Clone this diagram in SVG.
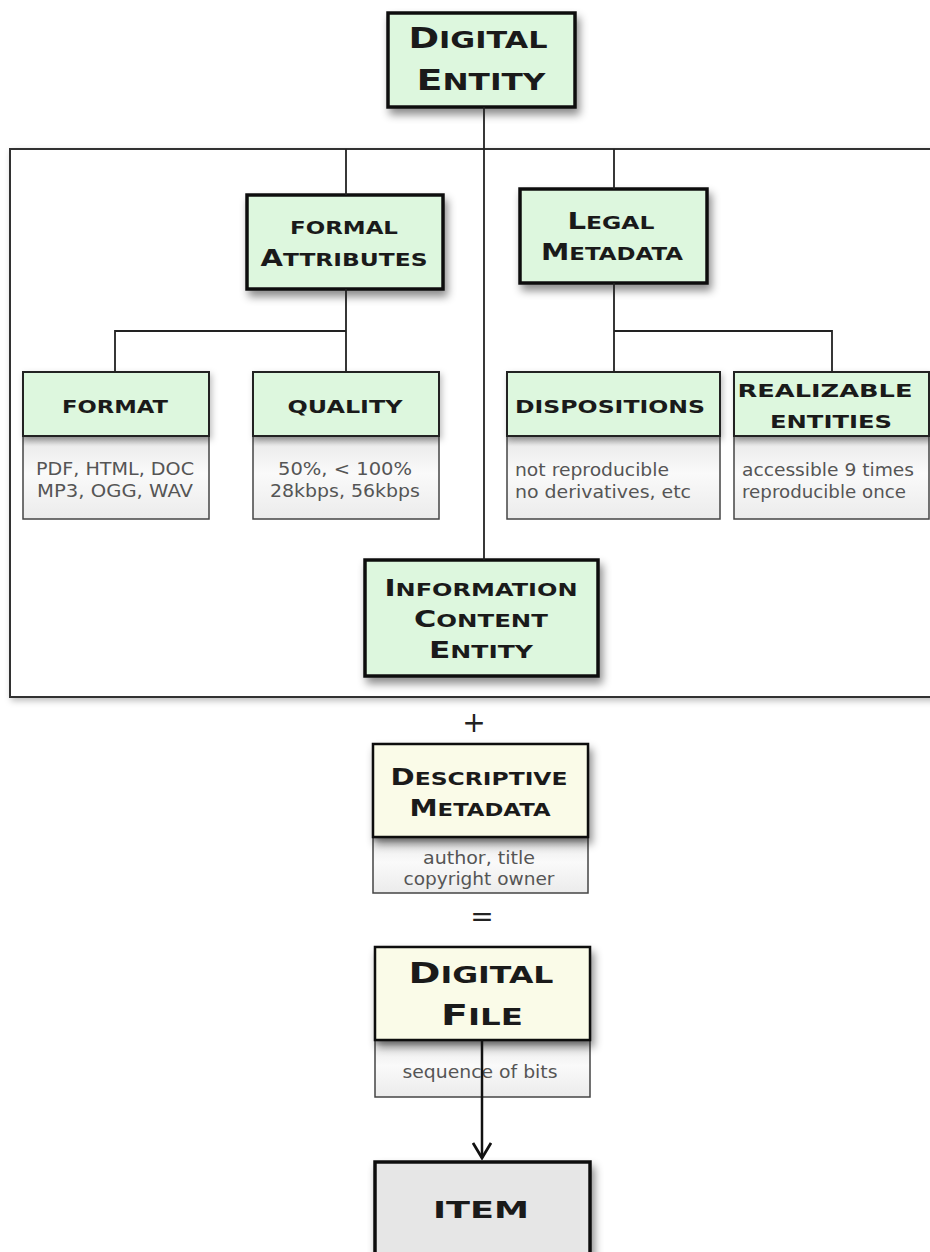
<svg xmlns="http://www.w3.org/2000/svg" width="930" height="1252" viewBox="0 0 930 1252">
<defs>
<filter id="sh" x="-20%" y="-20%" width="150%" height="160%">
<feDropShadow dx="3" dy="6" stdDeviation="4" flood-color="#000" flood-opacity="0.45"/>
</filter>
<filter id="shs" x="-20%" y="-20%" width="150%" height="160%">
<feDropShadow dx="2" dy="3" stdDeviation="3" flood-color="#000" flood-opacity="0.25"/>
</filter>
<linearGradient id="bodyg" x1="0" y1="0" x2="0" y2="1">
<stop offset="0" stop-color="#b5b5b5"/>
<stop offset="0.12" stop-color="#ececec"/>
<stop offset="0.45" stop-color="#fafafa"/>
<stop offset="1" stop-color="#ebebeb"/>
</linearGradient>
<marker id="arr" viewBox="0 0 18 20" refX="16" refY="10" markerWidth="18" markerHeight="20" markerUnits="userSpaceOnUse" orient="auto">
<path d="M1,1 L16,10 L1,19" fill="none" stroke="#111" stroke-width="2.8"/>
</marker>
</defs>
<style>
.main{fill:#ddf7de;stroke:#111;stroke-width:3.5}
.sub{fill:#ddf7de;stroke:#222;stroke-width:2}
.yel{fill:#fafbe8;stroke:#111;stroke-width:2.5}
.item{fill:#e6e6e6;stroke:#111;stroke-width:3.5}
.body{fill:url(#bodyg);stroke:#444;stroke-width:1.5}
.t{font-family:"DejaVu Sans","Liberation Sans",sans-serif;font-weight:bold;fill:#1a1a1a;text-anchor:middle}
.tb{font-size:28px}
.ts{font-size:23px}
.tm{font-size:18.5px}
.tl{font-size:23px}
.b{font-family:"DejaVu Sans","Liberation Sans",sans-serif;fill:#555;font-size:18.5px}
.c{text-anchor:middle}
.con{stroke:#222;stroke-width:1.8;fill:none}
.sym{font-family:"DejaVu Sans","Liberation Sans",sans-serif;fill:#222;text-anchor:middle}
</style>

<g id="container">
<rect x="10" y="149" width="930" height="548" fill="#fff" stroke="#333" stroke-width="2" filter="url(#shs)"/>
</g>

<g id="digital-entity">
<rect class="main" x="388" y="13" width="187" height="94" filter="url(#sh)"/>
<text class="t ts" x="478" y="48" textLength="139" lengthAdjust="spacingAndGlyphs"><tspan class="tb">D</tspan>IGITAL</text>
<text class="t ts" x="481" y="90" textLength="129" lengthAdjust="spacingAndGlyphs"><tspan class="tb">E</tspan>NTITY</text>
</g>

<g id="formal-attributes">
<rect class="main" x="247" y="195" width="196" height="94" filter="url(#sh)"/>
<text class="t tm" x="344" y="234" textLength="108" lengthAdjust="spacingAndGlyphs">FORMAL</text>
<text class="t tm" x="344" y="266" textLength="167" lengthAdjust="spacingAndGlyphs"><tspan class="tl">A</tspan>TTRIBUTES</text>
</g>

<g id="legal-metadata">
<rect class="main" x="520" y="189" width="187" height="94" filter="url(#sh)"/>
<text class="t tm" x="611" y="229" textLength="87" lengthAdjust="spacingAndGlyphs"><tspan class="tl">L</tspan>EGAL</text>
<text class="t tm" x="612" y="260" textLength="142" lengthAdjust="spacingAndGlyphs"><tspan class="tl">M</tspan>ETADATA</text>
</g>

<g id="format">
<rect class="body" x="23" y="436" width="186" height="83"/>
<rect class="sub" x="23" y="372" width="186" height="64" filter="url(#shs)"/>
<text class="t tm" x="115" y="413" textLength="106" lengthAdjust="spacingAndGlyphs">FORMAT</text>
<text class="b c" x="115" y="475" textLength="158" lengthAdjust="spacingAndGlyphs">PDF, HTML, DOC</text>
<text class="b c" x="115" y="497" textLength="156" lengthAdjust="spacingAndGlyphs">MP3, OGG, WAV</text>
</g>

<g id="quality">
<rect class="body" x="253" y="436" width="186" height="83"/>
<rect class="sub" x="253" y="372" width="186" height="64" filter="url(#shs)"/>
<text class="t tm" x="345" y="413" textLength="115" lengthAdjust="spacingAndGlyphs">QUALITY</text>
<text class="b c" x="345" y="475" textLength="134" lengthAdjust="spacingAndGlyphs">50%, &lt; 100%</text>
<text class="b c" x="345" y="497" textLength="150" lengthAdjust="spacingAndGlyphs">28kbps, 56kbps</text>
</g>

<g id="dispositions">
<rect class="body" x="507" y="436" width="213" height="83"/>
<rect class="sub" x="507" y="372" width="213" height="64" filter="url(#shs)"/>
<text class="t tm" x="610" y="413" textLength="190" lengthAdjust="spacingAndGlyphs">DISPOSITIONS</text>
<text class="b" x="515" y="476" textLength="154" lengthAdjust="spacingAndGlyphs">not reproducible</text>
<text class="b" x="515" y="498" textLength="176" lengthAdjust="spacingAndGlyphs">no derivatives, etc</text>
</g>

<g id="realizable-entities">
<rect class="body" x="734" y="436" width="195" height="83"/>
<rect class="sub" x="734" y="372" width="195" height="64" filter="url(#shs)"/>
<text class="t tm" x="825" y="397" textLength="175" lengthAdjust="spacingAndGlyphs">REALIZABLE</text>
<text class="t tm" x="831" y="428" textLength="122" lengthAdjust="spacingAndGlyphs">ENTITIES</text>
<text class="b" x="742" y="476" textLength="172" lengthAdjust="spacingAndGlyphs">accessible 9 times</text>
<text class="b" x="742" y="498" textLength="164" lengthAdjust="spacingAndGlyphs">reproducible once</text>
</g>

<g id="information-content-entity">
<rect class="main" x="365" y="560" width="233" height="116" filter="url(#sh)"/>
<text class="t tm" x="481" y="596" textLength="193" lengthAdjust="spacingAndGlyphs"><tspan class="tl">I</tspan>NFORMATION</text>
<text class="t tm" x="481" y="627" textLength="134" lengthAdjust="spacingAndGlyphs"><tspan class="tl">C</tspan>ONTENT</text>
<text class="t tm" x="481" y="658" textLength="104" lengthAdjust="spacingAndGlyphs"><tspan class="tl">E</tspan>NTITY</text>
</g>

<g id="plus">
<text class="sym" x="474" y="732" font-size="28">+</text>
</g>

<g id="descriptive-metadata">
<rect class="body" x="373" y="837" width="215" height="56"/>
<rect class="yel" x="373" y="744" width="215" height="93" filter="url(#sh)"/>
<text class="t tm" x="479" y="785" textLength="177" lengthAdjust="spacingAndGlyphs"><tspan class="tl">D</tspan>ESCRIPTIVE</text>
<text class="t tm" x="480" y="816" textLength="141" lengthAdjust="spacingAndGlyphs"><tspan class="tl">M</tspan>ETADATA</text>
<text class="b c" x="479" y="864" textLength="112" lengthAdjust="spacingAndGlyphs">author, title</text>
<text class="b c" x="479" y="885" textLength="151" lengthAdjust="spacingAndGlyphs">copyright owner</text>
</g>

<g id="equals">
<text class="sym" x="482" y="926" font-size="28">=</text>
</g>

<g id="digital-file">
<rect class="body" x="375" y="1040" width="215" height="57"/>
<rect class="yel" x="375" y="947" width="215" height="93" filter="url(#sh)"/>
<text class="t ts" x="481" y="983" textLength="145" lengthAdjust="spacingAndGlyphs"><tspan class="tb">D</tspan>IGITAL</text>
<text class="t ts" x="482" y="1025" textLength="82" lengthAdjust="spacingAndGlyphs"><tspan class="tb">F</tspan>ILE</text>
<text class="b c" x="480" y="1078" textLength="155" lengthAdjust="spacingAndGlyphs">sequence of bits</text>
</g>

<g id="item">
<rect class="item" x="375" y="1162" width="215" height="110" filter="url(#sh)"/>
<text class="t tl" x="481" y="1218" textLength="96" lengthAdjust="spacingAndGlyphs">ITEM</text>
</g>

<g id="connectors">
<line class="con" x1="484" y1="107" x2="484" y2="560"/>
<line class="con" x1="346" y1="149" x2="346" y2="195"/>
<line class="con" x1="614" y1="149" x2="614" y2="189"/>
<path class="con" d="M346,289 V331 M115,372 V331 H346 V372"/>
<path class="con" d="M614,283 V372 M614,331 H832 V372"/>
<line x1="482" y1="1040" x2="482" y2="1158" stroke="#111" stroke-width="2.5" marker-end="url(#arr)"/>
</g>
</svg>
